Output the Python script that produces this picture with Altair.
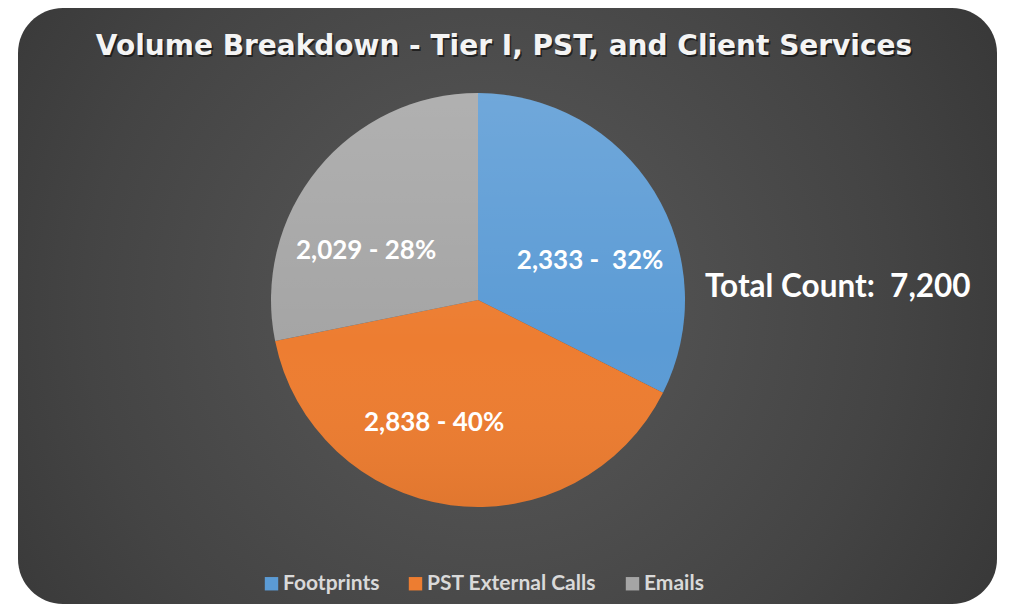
import altair as alt
import pandas as pd

NB = "\u00a0"
categories = ["Footprints", "PST External Calls", "Emails"]
counts = [2333, 2838, 2029]
slice_labels = ["2,333 -" + NB + NB + "32%", "2,838 - 40%", "2,029 - 28%"]
colors = ["#5B9BD5", "#ED7D31", "#A5A5A5"]
title_text = "Volume Breakdown - Tier I, PST, and Client Services"
total_label = "Total Count:" + NB + NB + "7,200"

df = pd.DataFrame({"category": categories, "count": counts,
                   "label": slice_labels, "order": list(range(len(categories)))})
one = pd.DataFrame({"k": [0]})

W, H = 996, 597
CX, CY, R = 470, 292, 207
LABEL_R = 120
label_offsets = {"Footprints": (10, 24), "PST External Calls": (-28, 4), "Emails": (-19, 27)}

bg = alt.Chart(one).mark_rect(
    cornerRadius=45,
    fill=alt.RadialGradient(
        gradient="radial", x1=0.48, y1=0.5, r1=0, x2=0.48, y2=0.5, r2=0.75,
        stops=[alt.GradientStop(color="#5a5a5a", offset=0),
               alt.GradientStop(color="#444444", offset=0.55),
               alt.GradientStop(color="#2e2e2e", offset=1)])
).encode(x=alt.value(10), x2=alt.value(989), y=alt.value(0), y2=alt.value(596))

pie = alt.Chart(df).mark_arc(outerRadius=R).encode(
    theta=alt.Theta("count:Q", stack=True),
    order=alt.Order("order:Q"),
    color=alt.Color("category:N",
                    scale=alt.Scale(domain=categories, range=colors),
                    sort=categories,
                    legend=alt.Legend(orient="none", legendX=253, legendY=565,
                                      direction="horizontal", title=None,
                                      symbolType="square", symbolSize=180,
                                      symbolStrokeWidth=0, labelFont="Lato",
                                      labelFontSize=21, labelFontWeight="bold",
                                      labelColor="#d9d9d9", columnPadding=25,
                                      labelOffset=1, labelLimit=400)),
    x=alt.value(CX), y=alt.value(CY),
)

sheen = alt.Chart(one).mark_circle(
    size=(2 * R) ** 2, opacity=1,
    fill=alt.LinearGradient(
        gradient="linear", x1=0, y1=0, x2=0, y2=1,
        stops=[alt.GradientStop(color="rgba(255,255,255,0.13)", offset=0),
               alt.GradientStop(color="rgba(255,255,255,0.0)", offset=0.6),
               alt.GradientStop(color="rgba(0,0,0,0.05)", offset=1)])
).encode(x=alt.value(CX), y=alt.value(CY))

lab_base = alt.Chart(df).transform_joinaggregate(
    total="sum(count)"
).transform_window(
    cum="sum(count)", sort=[alt.SortField("order")]
).transform_calculate(
    mid="(datum.cum - datum.count / 2) / datum.total * 2 * PI"
)

label_layers = []
for c in categories:
    dx, dy = label_offsets[c]
    label_layers.append(
        lab_base.transform_filter(alt.datum.category == c).mark_text(
            radius=LABEL_R, dx=dx, dy=dy, font="Lato", fontSize=26,
            fontWeight="bold", color="white", baseline="middle", align="center"
        ).encode(theta=alt.Theta("mid:Q", scale=None, stack=False),
                 text="label:N", x=alt.value(CX), y=alt.value(CY))
    )

title_shadow = alt.Chart(one).mark_text(
    text=title_text, font="DejaVu Sans", fontSize=28, fontWeight="bold",
    color="black", opacity=0.55, align="center", baseline="alphabetic", dx=1.5, dy=2
).encode(x=alt.value(496), y=alt.value(47))
title = alt.Chart(one).mark_text(
    text=title_text, font="DejaVu Sans", fontSize=28, fontWeight="bold",
    color="#f4f4f4", align="center", baseline="alphabetic"
).encode(x=alt.value(496), y=alt.value(47))

total = alt.Chart(one).mark_text(
    text=total_label, font="Lato", fontSize=31.5, fontWeight="bold",
    color="white", align="left", baseline="alphabetic"
).encode(x=alt.value(697), y=alt.value(289))

chart = alt.layer(bg, pie, sheen, *label_layers, title_shadow, title, total).properties(
    width=W, height=H, autosize="none", padding=0, background="white"
).configure_view(stroke=None)

chart.save("out.html", embed_options={"renderer": "svg", "actions": False})
